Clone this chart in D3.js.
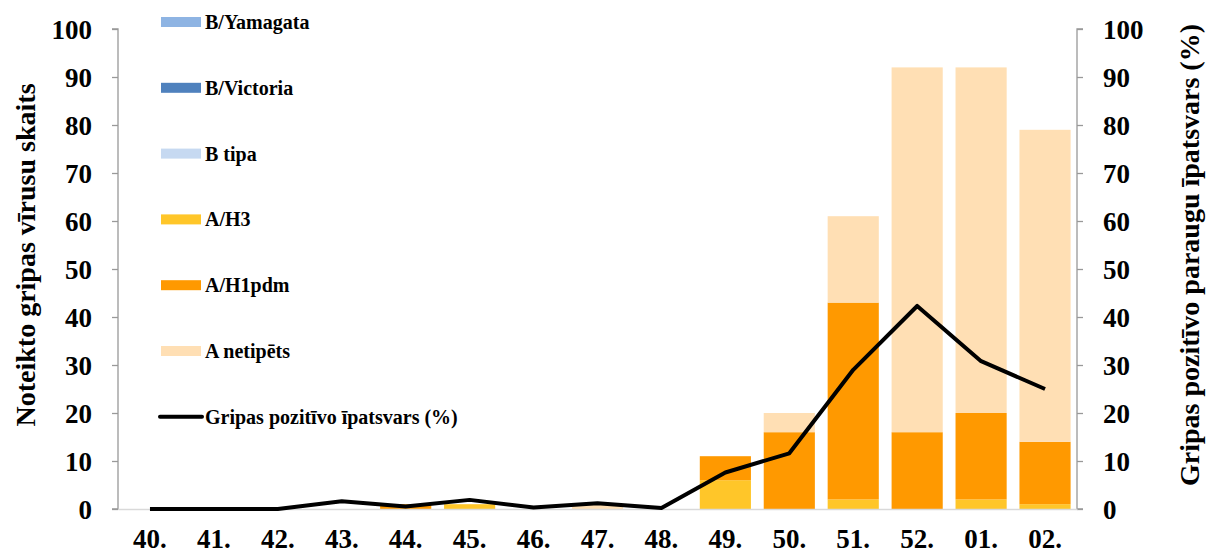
<!DOCTYPE html>
<html>
<head>
<meta charset="utf-8">
<script src="https://cdn.jsdelivr.net/npm/d3@7"></script>
<style>
  body { margin: 0; background: #fff; }
  svg { display: block; }
  text { font-family: "Liberation Serif", "Times New Roman", serif; font-weight: bold; fill: #000; }
</style>
</head>
<body>
<svg id="chart" width="1207" height="556"></svg>
<script>
const weeks = ["40.","41.","42.","43.","44.","45.","46.","47.","48.","49.","50.","51.","52.","01.","02."];
const aH3      = [0,0,0,0,0,1,0,0,0,6,0,2,0,2,1];
const aH1pdm   = [0,0,0,0,1,0,0,0,0,5,16,41,16,18,13];
const aNetip   = [0,0,0,0,0,0,0,1,0,0,4,18,76,72,65];
const bTipa    = [0,0,0,0,0,0,0,0,0,0,0,0,0,0,0];
const bVictoria= [0,0,0,0,0,0,0,0,0,0,0,0,0,0,0];
const bYamagata= [0,0,0,0,0,0,0,0,0,0,0,0,0,0,0];
const positivePct = [0,0,0,1.6,0.5,1.9,0.3,1.2,0.2,7.6,11.6,29,42.3,30.8,25];
const leftTicks = [0,10,20,30,40,50,60,70,80,90,100];
const rightTicks = [0,10,20,30,40,50,60,70,80,90,100];

const seriesNames = ["A/H3","A/H1pdm","A netipēts","B tipa","B/Victoria","B/Yamagata"];
const seriesColors = ["#FFC629","#FF9900","#FFDFB4","#C6D9F1","#4F81BD","#8EB4E3"];
const seriesData = [aH3, aH1pdm, aNetip, bTipa, bVictoria, bYamagata];
const lineName = "Gripas pozitīvo īpatsvars (%)";

(function () {
const svg = d3.select("#chart");
const pL = 118, pR = 1077, pT = 29, pB = 509;

const x = d3.scaleBand().domain(weeks).range([pL, pR]).paddingInner(0.2).paddingOuter(0.1);
const y = d3.scaleLinear().domain([0, 100]).range([pB, pT]);
const y2 = d3.scaleLinear().domain([0, 100]).range([pB, pT]);

const table = weeks.map((w, i) => {
  const o = { week: w };
  seriesNames.forEach((n, k) => o[n] = seriesData[k][i]);
  return o;
});
const stacked = d3.stack().keys(seriesNames)(table);

svg.append("g").selectAll("g")
  .data(stacked).join("g")
  .attr("fill", (d, k) => seriesColors[k])
  .selectAll("rect")
  .data(d => d).join("rect")
  .attr("x", d => x(d.data.week))
  .attr("width", x.bandwidth())
  .attr("y", d => y(d[1]))
  .attr("height", d => Math.max(0, y(d[0]) - y(d[1])));

const axL = svg.append("g").attr("transform", `translate(${pL},0)`)
  .call(d3.axisLeft(y).tickValues(leftTicks).tickSize(6).tickPadding(20));
const axR = svg.append("g").attr("transform", `translate(${pR},0)`)
  .call(d3.axisRight(y2).tickValues(rightTicks).tickSize(6).tickPadding(20));
[axL, axR].forEach(a => {
  a.select(".domain").attr("stroke", "#999").attr("stroke-width", 1.3);
  a.selectAll(".tick line").attr("stroke", "#999").attr("stroke-width", 1.3);
  a.selectAll(".tick text").style("font-size", "27px").attr("dy", "0.35em")
    .style("font-family", "'Liberation Serif', serif").style("font-weight", "bold");
});
axL.select(".domain").attr("d", `M-6,${pT}H0V${pB}H-6`);
axR.select(".domain").attr("d", `M6,${pT}H0V${pB}H6`);

const axB = svg.append("g").attr("transform", `translate(0,${pB})`)
  .call(d3.axisBottom(x).tickSize(0).tickPadding(20));
axB.select(".domain").attr("stroke", "#d9d9d9").attr("stroke-width", 1.3);
axB.selectAll(".tick text").style("font-size", "27px").attr("dy", "0.71em")
  .style("font-family", "'Liberation Serif', serif").style("font-weight", "bold");

const line = d3.line()
  .x((d, i) => x(weeks[i]) + x.bandwidth() / 2)
  .y(d => y2(d));
svg.append("path").datum(positivePct)
  .attr("fill", "none").attr("stroke", "#000").attr("stroke-width", 4)
  .attr("stroke-linejoin", "round")
  .attr("d", line);

svg.append("text")
  .attr("transform", `translate(35,255) rotate(-90)`)
  .attr("text-anchor", "middle")
  .style("font-size", "28px")
  .text("Noteikto gripas vīrusu skaits");
svg.append("text")
  .attr("transform", `translate(1199,255) rotate(-90)`)
  .attr("text-anchor", "middle")
  .style("font-size", "28px")
  .text("Gripas pozitīvo paraugu īpatsvars (%)");

const legendItems = [
  { name: "B/Yamagata", color: "#8EB4E3", type: "rect" },
  { name: "B/Victoria", color: "#4F81BD", type: "rect" },
  { name: "B tipa", color: "#C6D9F1", type: "rect" },
  { name: "A/H3", color: "#FFC629", type: "rect" },
  { name: "A/H1pdm", color: "#FF9900", type: "rect" },
  { name: "A netipēts", color: "#FFDFB4", type: "rect" },
  { name: lineName, color: "#000", type: "line" }
];
const lg = svg.append("g");
legendItems.forEach((it, i) => {
  const cy = 22 + i * 65.8;
  if (it.type === "rect") {
    lg.append("rect").attr("x", 161).attr("y", cy - 5).attr("width", 40).attr("height", 10).attr("fill", it.color);
  } else {
    lg.append("line").attr("x1", 160).attr("x2", 202).attr("y1", cy).attr("y2", cy)
      .attr("stroke", "#000").attr("stroke-width", 4).attr("stroke-linecap", "round");
  }
  lg.append("text").attr("x", 205).attr("y", cy).attr("dy", "0.35em")
    .style("font-size", "20px").text(it.name);
});
})();
</script>
</body>
</html>
